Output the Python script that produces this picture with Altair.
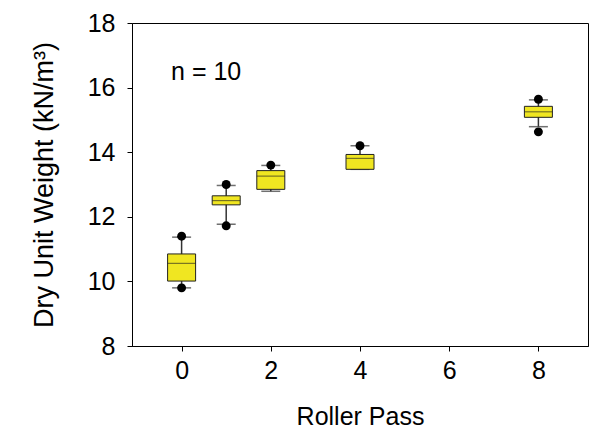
import altair as alt
import pandas as pd

passes = [0, 1, 2, 4, 8]
q1 = [10.01, 12.37, 12.85, 13.47, 15.08]
median = [10.56, 12.50, 13.26, 13.81, 15.25]
q3 = [10.85, 12.65, 13.43, 13.93, 15.42]
whisker_low = [9.80, 11.77, 12.79, 13.47, 14.79]
whisker_high = [11.37, 12.97, 13.59, 14.20, 15.62]

outlier_pass = [0, 0, 1, 1, 2, 4, 8, 8]
outlier_val = [11.40, 9.80, 13.00, 11.72, 13.60, 14.20, 15.64, 14.63]

x_ticks = [0, 2, 4, 6, 8]
y_ticks = [8, 10, 12, 14, 16, 18]

FONT = "Liberation Sans"

box = pd.DataFrame({"pass": passes, "q1": q1, "median": median, "q3": q3,
                    "lo": whisker_low, "hi": whisker_high})
out = pd.DataFrame({"pass": outlier_pass, "val": outlier_val})
note = pd.DataFrame({"x": [0.55], "y": [16.48], "t": ["n = 10"]})

xs = alt.Scale(domain=[-1, 9], nice=False, zero=False)
ys = alt.Scale(domain=[8, 18], nice=False, zero=False)

xax = alt.Axis(values=x_ticks, title="Roller Pass", grid=False, labelFontSize=25,
               titleFontSize=25, labelFont=FONT, titleFont=FONT, titleFontWeight="normal",
               labelPadding=7, titlePadding=21, tickSize=5, domainColor="black",
               tickColor="black", labelColor="black", titleColor="black")
yax = alt.Axis(values=y_ticks, title="Dry Unit Weight (kN/m³)", grid=False, labelFontSize=25,
               titleFontSize=27, labelFont=FONT, titleFont=FONT, titleFontWeight="normal",
               labelPadding=12, titlePadding=29, tickSize=5, domainColor="black",
               tickColor="black", labelColor="black", titleColor="black")

base = alt.Chart(box)

whisk = base.mark_rule(color="#333333", strokeWidth=1.5).encode(
    x=alt.X("pass:Q", scale=xs, axis=xax),
    y=alt.Y("lo:Q", scale=ys, axis=yax),
    y2="hi:Q",
)
cap_hi = base.mark_tick(orient="horizontal", size=19, thickness=1.5, color="#333333").encode(
    x=alt.X("pass:Q", scale=xs), y=alt.Y("hi:Q", scale=ys))
cap_lo = base.mark_tick(orient="horizontal", size=19, thickness=1.5, color="#333333").encode(
    x=alt.X("pass:Q", scale=xs), y=alt.Y("lo:Q", scale=ys))
bars = base.mark_bar(size=28, color="#F0E621", stroke="#222222", strokeWidth=1).encode(
    x=alt.X("pass:Q", scale=xs), y=alt.Y("q1:Q", scale=ys), y2="q3:Q")
med = base.mark_tick(orient="horizontal", size=28, thickness=1, color="#222222").encode(
    x=alt.X("pass:Q", scale=xs), y=alt.Y("median:Q", scale=ys))
pts = alt.Chart(out).mark_circle(size=80, color="black", opacity=1).encode(
    x=alt.X("pass:Q", scale=xs), y=alt.Y("val:Q", scale=ys))
txt = alt.Chart(note).mark_text(fontSize=25, font=FONT, color="black",
                                align="center", baseline="middle").encode(
    x=alt.X("x:Q", scale=xs), y=alt.Y("y:Q", scale=ys), text="t:N")

chart = alt.layer(whisk, cap_hi, cap_lo, bars, med, pts, txt).properties(
    width=456, height=323,
    autosize=alt.AutoSizeParams(type="none"),
    padding={"left": 124, "top": 15, "right": 1, "bottom": 83},
).configure_view(stroke="black", strokeWidth=1)

chart.save("out.html", embed_options={"renderer": "svg", "actions": False})
